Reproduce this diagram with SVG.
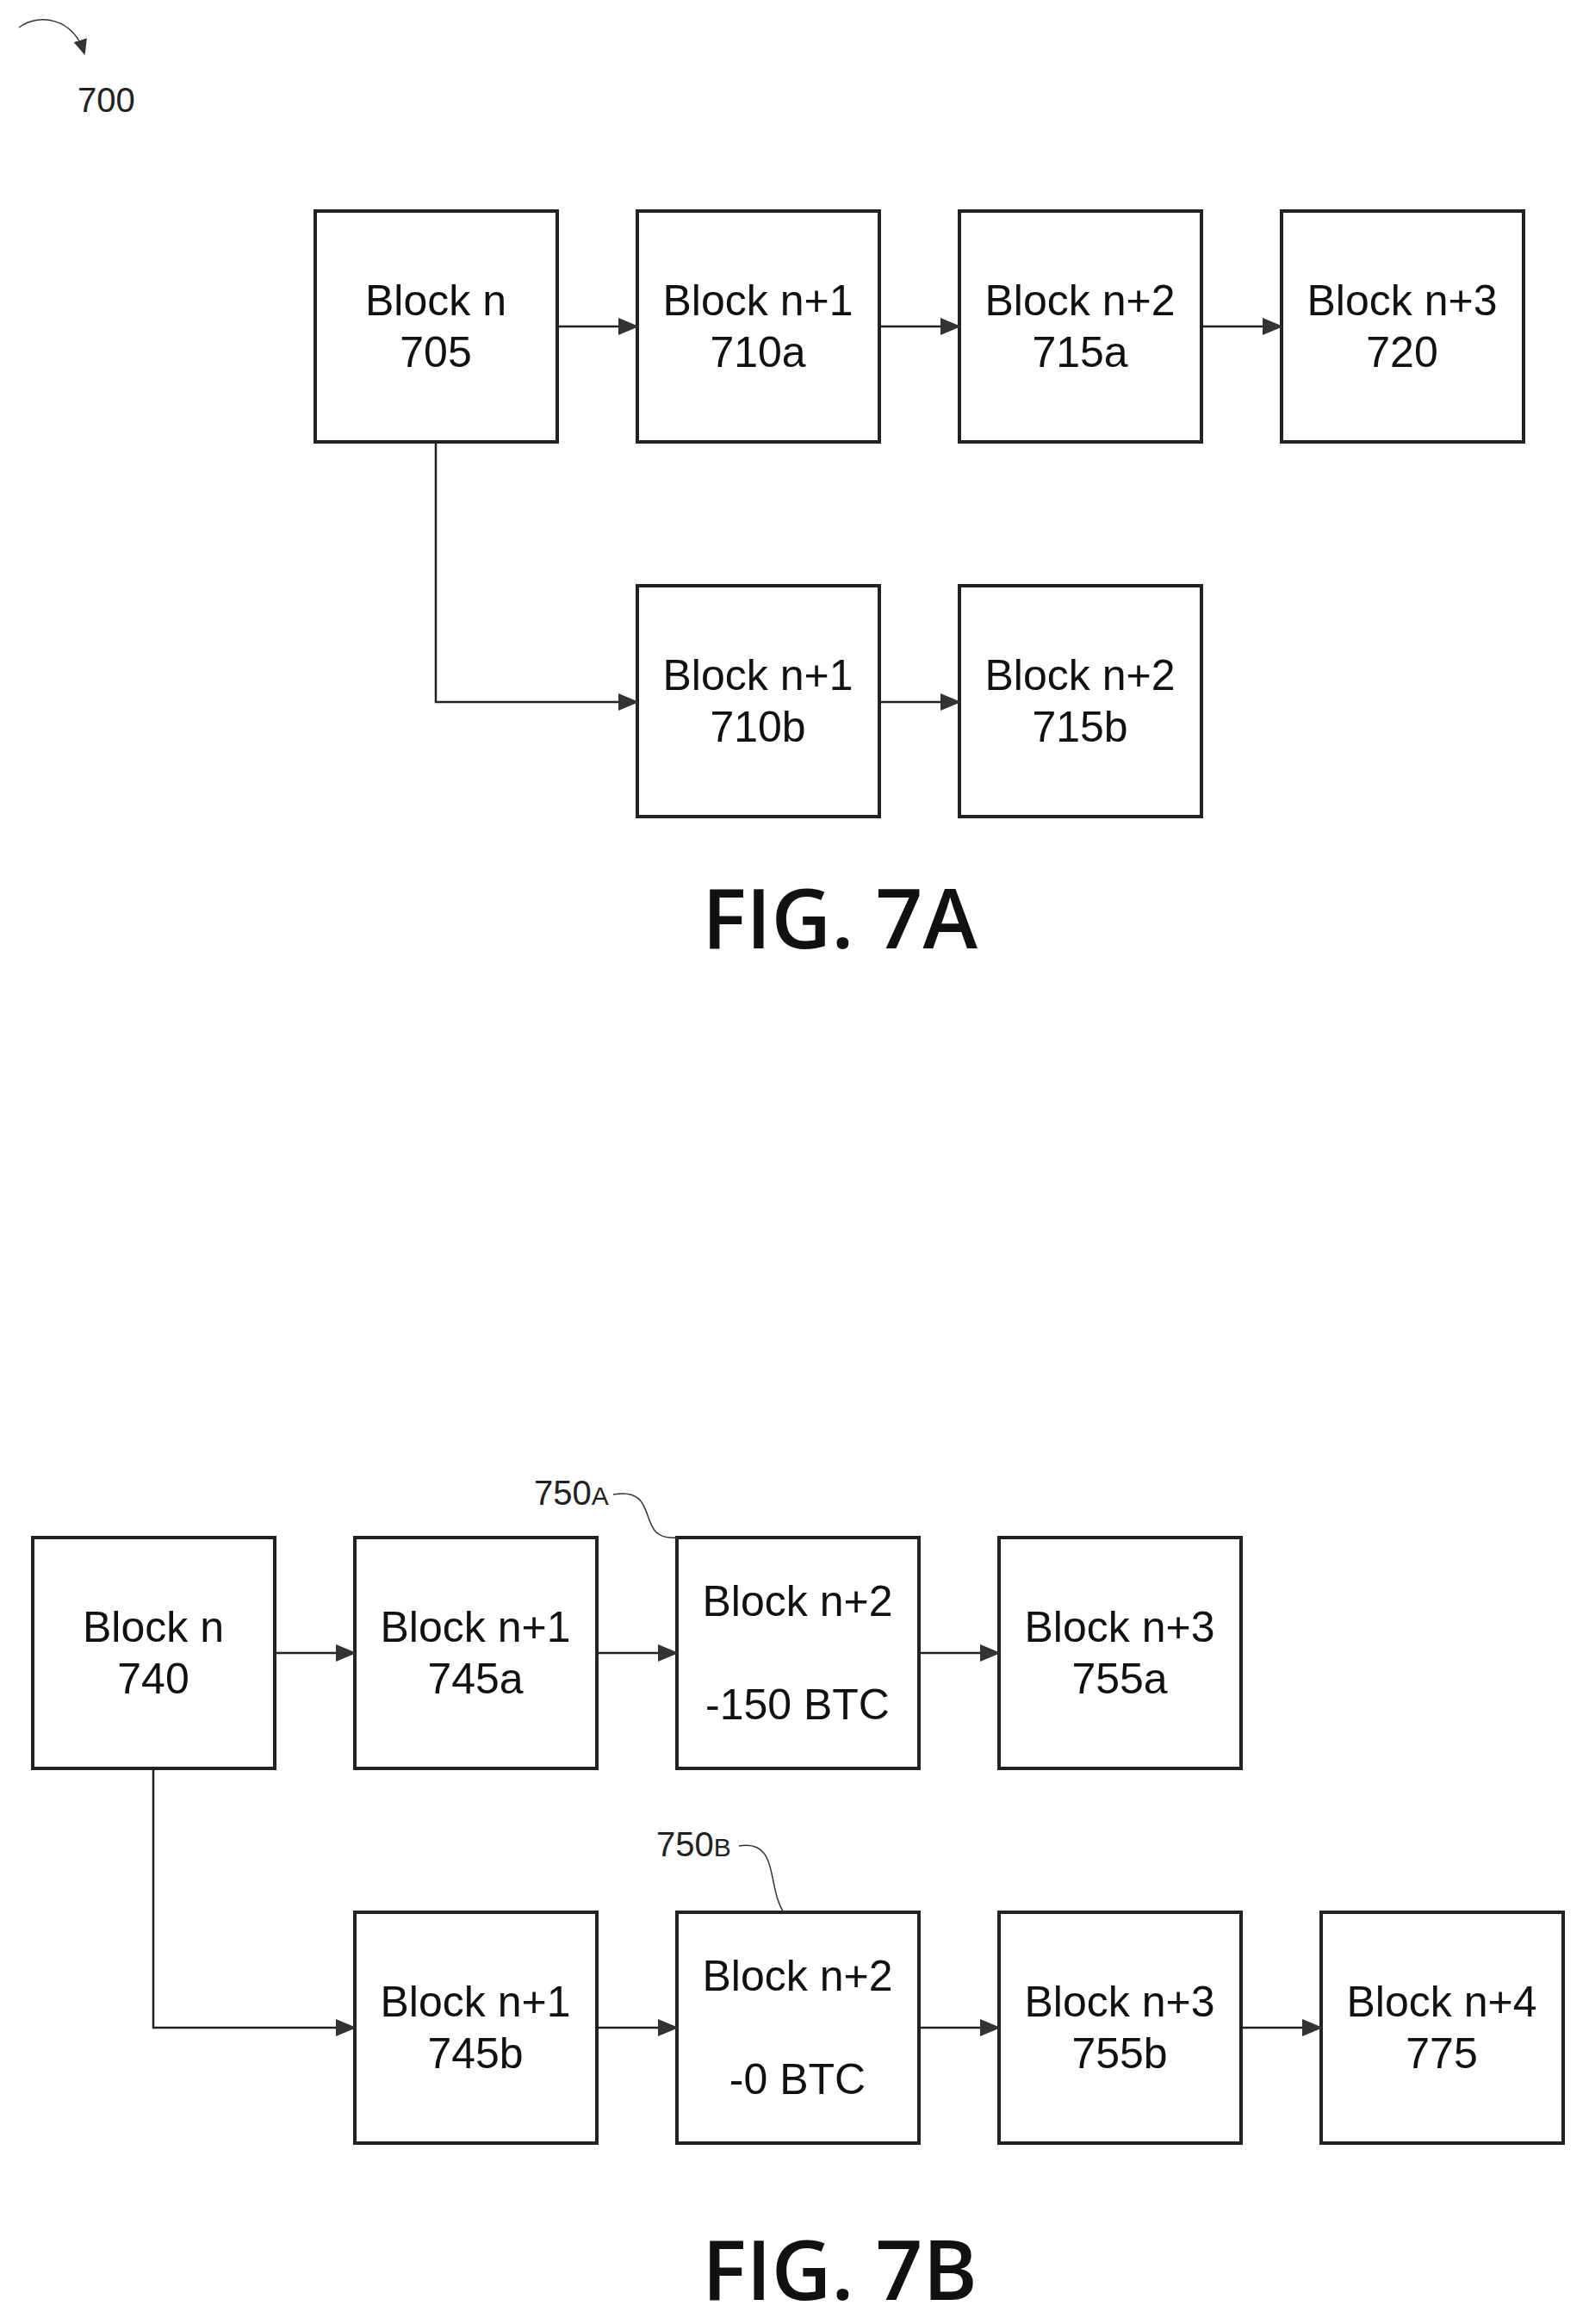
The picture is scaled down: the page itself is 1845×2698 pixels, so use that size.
<svg xmlns="http://www.w3.org/2000/svg" width="1845" height="2698" viewBox="0 0 1845 2698">
<style>
.b{fill:#fff;stroke:#222;stroke-width:4}
.t{font-family:"Liberation Sans",Arial,sans-serif;font-size:50px;fill:#111;text-anchor:middle}
.c{fill:none;stroke:#222;stroke-width:2.5}
.l{fill:none;stroke:#333;stroke-width:1.5}
.r{font-family:"Liberation Sans",Arial,sans-serif;font-size:40px;fill:#222}
.f{font-family:"Open Sans","DejaVu Sans",sans-serif;font-weight:600;font-size:96px;fill:#111;text-anchor:middle}
</style>
<defs><marker id="a" markerWidth="18" markerHeight="18" refX="16" refY="9" orient="auto" markerUnits="userSpaceOnUse" viewBox="0 0 18 18"><path d="M0,1 L18,9 L0,17 z" fill="#333"/></marker>
<marker id="ah" markerWidth="24" markerHeight="24" refX="22" refY="12" orient="auto" markerUnits="userSpaceOnUse" viewBox="0 0 24 24"><path d="M0,2 L24,12 L0,22 z" fill="#333"/></marker></defs>
<g id="ref700"><path class="l" d="M22,32 C45,15 85,20 98,62" marker-end="url(#a)" stroke-width="3.5"/><text class="r" x="90" y="130" font-size="44">700</text></g>
<g id="n705"><rect class="b" x="366" y="245" width="281" height="268"/><text class="t" x="506" y="366">Block n</text><text class="t" x="506" y="426">705</text></g>
<g id="n710a"><rect class="b" x="740" y="245" width="281" height="268"/><text class="t" x="880" y="366">Block n+1</text><text class="t" x="880" y="426">710a</text></g>
<g id="n715a"><rect class="b" x="1114" y="245" width="281" height="268"/><text class="t" x="1254" y="366">Block n+2</text><text class="t" x="1254" y="426">715a</text></g>
<g id="n720"><rect class="b" x="1488" y="245" width="281" height="268"/><text class="t" x="1628" y="366">Block n+3</text><text class="t" x="1628" y="426">720</text></g>
<g id="n710b"><rect class="b" x="740" y="680" width="281" height="268"/><text class="t" x="880" y="801">Block n+1</text><text class="t" x="880" y="861">710b</text></g>
<g id="n715b"><rect class="b" x="1114" y="680" width="281" height="268"/><text class="t" x="1254" y="801">Block n+2</text><text class="t" x="1254" y="861">715b</text></g>
<text class="f" x="975" y="1101">FIG. 7A</text>
<g id="n740"><rect class="b" x="38" y="1785" width="281" height="268"/><text class="t" x="178" y="1906">Block n</text><text class="t" x="178" y="1966">740</text></g>
<g id="n745a"><rect class="b" x="412" y="1785" width="281" height="268"/><text class="t" x="552" y="1906">Block n+1</text><text class="t" x="552" y="1966">745a</text></g>
<g id="n750a"><rect class="b" x="786" y="1785" width="281" height="268"/><text class="t" x="926" y="1876">Block n+2</text><text class="t" x="926" y="1996">-150 BTC</text></g>
<g id="n755a"><rect class="b" x="1160" y="1785" width="281" height="268"/><text class="t" x="1300" y="1906">Block n+3</text><text class="t" x="1300" y="1966">755a</text></g>
<g id="n745b"><rect class="b" x="412" y="2220" width="281" height="268"/><text class="t" x="552" y="2341">Block n+1</text><text class="t" x="552" y="2401">745b</text></g>
<g id="n750b"><rect class="b" x="786" y="2220" width="281" height="268"/><text class="t" x="926" y="2311">Block n+2</text><text class="t" x="926" y="2431">-0 BTC</text></g>
<g id="n755b"><rect class="b" x="1160" y="2220" width="281" height="268"/><text class="t" x="1300" y="2341">Block n+3</text><text class="t" x="1300" y="2401">755b</text></g>
<g id="n775"><rect class="b" x="1534" y="2220" width="281" height="268"/><text class="t" x="1674" y="2341">Block n+4</text><text class="t" x="1674" y="2401">775</text></g>
<g id="lab750a"><text class="r" x="620" y="1747">750<tspan font-size="30">A</tspan></text><path class="l" d="M712,1735 C770,1725 735,1790 786,1785"/></g>
<g id="lab750b"><text class="r" x="762" y="2155">750<tspan font-size="30">B</tspan></text><path class="l" d="M858,2143 C905,2135 890,2190 910,2220"/></g>
<text class="f" x="975" y="2670">FIG. 7B</text>
<g id="connectors">
<path class="c" marker-end="url(#ah)" d="M647,379 H740"/>
<path class="c" marker-end="url(#ah)" d="M1021,379 H1114"/>
<path class="c" marker-end="url(#ah)" d="M1395,379 H1488"/>
<path class="c" marker-end="url(#ah)" d="M506,513 V815 H740"/>
<path class="c" marker-end="url(#ah)" d="M1021,815 H1114"/>
<path class="c" marker-end="url(#ah)" d="M319,1919 H412"/>
<path class="c" marker-end="url(#ah)" d="M693,1919 H786"/>
<path class="c" marker-end="url(#ah)" d="M1067,1919 H1160"/>
<path class="c" marker-end="url(#ah)" d="M178,2053 V2354 H412"/>
<path class="c" marker-end="url(#ah)" d="M693,2354 H786"/>
<path class="c" marker-end="url(#ah)" d="M1067,2354 H1160"/>
<path class="c" marker-end="url(#ah)" d="M1441,2354 H1534"/>
</g>
</svg>
